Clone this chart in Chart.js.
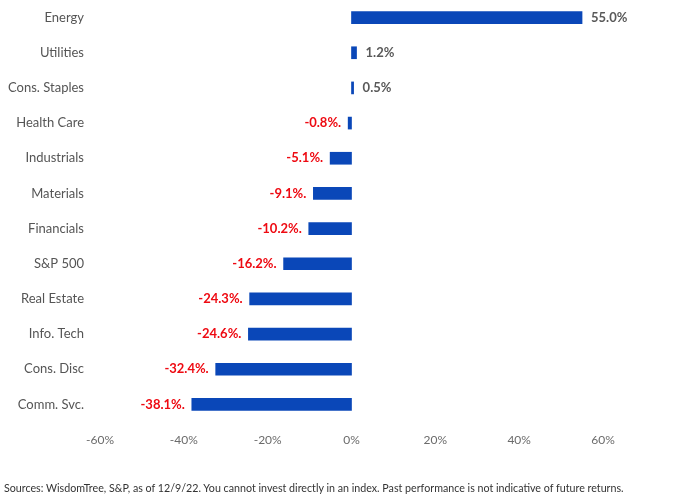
<!DOCTYPE html>
<html>
<head>
<meta charset="utf-8">
<script src="https://cdn.jsdelivr.net/npm/chart.js@4/dist/chart.umd.min.js"></script>
<style>
  html, body { margin: 0; padding: 0; background: #fff; }
  #wrap { position: relative; width: 688px; height: 504px; }
  #note { position: absolute; left: 4px; top: 481px; font-family: Lato, sans-serif; font-size: 10.7px; color: #333; white-space: nowrap; }
</style>
</head>
<body>
<div id="wrap">
  <canvas id="c" width="688" height="504"></canvas>
  <div id="note">Sources: WisdomTree, S&amp;P, as of 12/9/22. You cannot invest directly in an index. Past performance is not indicative of future returns.</div>
</div>
<script>
const categories = ["Energy", "Utilities", "Cons. Staples", "Health Care", "Industrials", "Materials", "Financials", "S&P 500", "Real Estate", "Info. Tech", "Cons. Disc", "Comm. Svc."];
const returns = [55.0, 1.2, 0.5, -0.8, -5.1, -9.1, -10.2, -16.2, -24.3, -24.6, -32.4, -38.1];
const xTicks = [-60, -40, -20, 0, 20, 40, 60];

const valueLabels = {
  id: 'valueLabels',
  afterDatasetsDraw(chart) {
    const ctx = chart.ctx;
    const meta = chart.getDatasetMeta(0);
    ctx.save();
    ctx.font = 'bold 13px Lato, sans-serif';
    ctx.textBaseline = 'middle';
    meta.data.forEach((bar, i) => {
      const v = returns[i];
      if (v >= 0) {
        ctx.fillStyle = '#595959';
        ctx.textAlign = 'left';
        ctx.fillText(v.toFixed(1) + '%', bar.x + 9, bar.y);
      } else {
        ctx.fillStyle = '#ee0a12';
        ctx.textAlign = 'right';
        ctx.fillText(v.toFixed(1) + '%.', bar.x - 7, bar.y);
      }
    });
    ctx.restore();
  }
};

new Chart(document.getElementById('c'), {
  type: 'bar',
  data: {
    labels: categories,
    datasets: [{
      data: returns,
      backgroundColor: '#0a47b8',
      borderWidth: 0,
      barThickness: 12
    }]
  },
  options: {
    indexAxis: 'y',
    responsive: false,
    animation: false,
    devicePixelRatio: 1,
    layout: { padding: { top: 0, right: 85, bottom: 42, left: 0 } },
    plugins: { legend: { display: false }, tooltip: { enabled: false } },
    scales: {
      x: {
        min: -60, max: 60,
        afterBuildTicks(scale) { scale.ticks = xTicks.map(v => ({ value: v })); },
        afterFit(scale) { scale.height = 40; scale.paddingLeft = 0; scale.paddingRight = 0; },
        grid: { display: false, drawTicks: false },
        border: { display: false },
        ticks: {
          padding: 11,
          color: '#6b6b6b',
          font: { family: 'Lato, sans-serif', size: 12 },
          callback: v => v + '%'
        }
      },
      y: {
        afterFit(scale) { scale.width = 100; scale.paddingTop = 0; scale.paddingBottom = 0; },
        grid: { display: false, drawTicks: false },
        border: { display: false },
        ticks: {
          padding: 16,
          color: '#555',
          font: { family: 'Lato, sans-serif', size: 13 }
        }
      }
    }
  },
  plugins: [valueLabels]
});
</script>
</body>
</html>
